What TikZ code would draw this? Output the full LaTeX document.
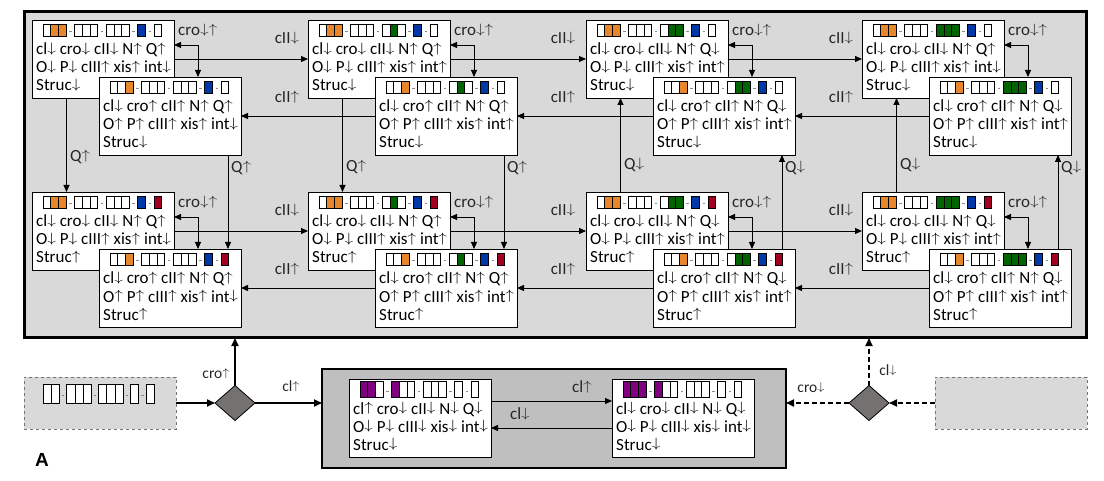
\documentclass[tikz,border=0pt]{standalone}
\usepackage{graphicx}
\usepackage{fontspec}
\setmainfont{Carlito}
\newfontfamily\arialf{Liberation Sans}
\usetikzlibrary{arrows.meta,shapes.geometric,calc}
\definecolor{cO}{RGB}{232,134,44}
\definecolor{cG}{RGB}{0,100,0}
\definecolor{cB}{RGB}{0,56,168}
\definecolor{cR}{RGB}{165,0,33}
\definecolor{cP}{RGB}{128,0,128}
\definecolor{cW}{RGB}{255,255,255}
\definecolor{bgmain}{RGB}{217,217,217}
\definecolor{bgmid}{RGB}{191,191,191}
\definecolor{diac}{RGB}{118,113,113}
\newcommand\UA{\raisebox{0.14em}{\scalebox{1}[0.78]{$\uparrow$}}}
\newcommand\DA{\raisebox{0.14em}{\scalebox{1}[0.78]{$\downarrow$}}}
\tikzset{
  mainbox/.style={draw=black, line width=3pt, fill=bgmain, inner sep=0, outer sep=0},
  midbox/.style={draw=black, line width=2.5pt, fill=bgmid, inner sep=0, outer sep=0},
  dbox/.style={draw=black!55, dashed, line width=0.7pt, fill=bgmain, inner sep=0, outer sep=0, minimum width=152, minimum height=52},
  stbox/.style={draw=black, line width=0.9pt, fill=white, inner sep=0, outer sep=0, minimum width=142, minimum height=78},
  btxt/.style={anchor=base west, inner sep=0, text height=10pt, text depth=2.5pt, font=\fontsize{17}{18}\selectfont},
  lbl/.style={inner sep=0, text height=10pt, text depth=2.5pt, font=\fontsize{17}{18}\selectfont, text=black!85},
  slbl/.style={inner sep=0, text height=9pt, text depth=2pt, font=\fontsize{15.5}{16}\selectfont, text=black!85},
  cellline/.style={draw=black, line width=0.7pt},
  dashc/.style={draw=black!45, line width=0.6pt},
  conn/.style={draw=black, line width=0.9pt, -{Triangle[length=7pt,width=6pt]}},
  conn2/.style={draw=black, line width=0.9pt, {Triangle[length=7pt,width=6pt]}-{Triangle[length=7pt,width=6pt]}},
  bigc/.style={draw=black, line width=1.8pt, -{Triangle[length=8pt,width=7pt]}},
  bigd/.style={bigc, dash pattern=on 5pt off 3pt},
  dia/.style={diamond, draw=black, line width=0.8pt, fill=diac, minimum width=40, minimum height=35, inner sep=0, outer sep=0}
}
\def\cw{7.7}\def\ch{12}\def\cg{8.5}\def\cy{4}
\newcommand\cellrow[3]{%
  \xdef\curx{#1}%
  \foreach \grp [count=\gi] in {#3} {%
    \ifnum\gi>1\relax
      \draw[dashc] ({\curx+\cg/2-1.2},{#2+\ch*0.62}) -- ++(2.4,0);
      \pgfmathsetmacro\nx{\curx+\cg}\xdef\curx{\nx}%
    \fi
    \foreach \c in \grp {%
      \draw[cellline, fill=\c] (\curx,#2) rectangle ++(\cw,\ch);
      \pgfmathsetmacro\nx{\curx+\cw}\xdef\curx{\nx}%
    }%
  }%
}
\newcommand\stbox[7]{%
  \node[stbox, anchor=north west] (#1) at (#2,#3) {};
  \cellrow{#2+11}{#3+\cy}{#4}
  \node[btxt] (#1-a) at ($(#1.north west)+(4,35)$) {#5};
  \node[btxt] (#1-b) at ($(#1.north west)+(4,53)$) {#6};
  \node[btxt] (#1-c) at ($(#1.north west)+(4,71)$) {#7};
}
\begin{document}
\begin{tikzpicture}[x=1pt,y=-1pt]
\useasboundingbox (0,0) rectangle (1104,481);
\node[mainbox, anchor=north west, minimum width=1062, minimum height=326] (main) at (24,12) {};

% ---------- top row ----------
\stbox{T1b}{32}{20}{{cW,cO,cO},{cW,cW,cW},{cW,cW,cW},{cB},{cW}}
 {cl\DA\ cro\DA\ cII\DA\ N\UA\ Q\UA}{O\DA\ P\DA\ cIII\UA\ xis\UA\ int\DA}{Struc\DA}
\stbox{T1f}{99}{77}{{cW,cW,cO},{cW,cW,cW},{cW,cW,cW},{cB},{cW}}
 {cl\DA\ cro\UA\ cII\UA\ N\UA\ Q\UA}{O\UA\ P\UA\ cIII\UA\ xis\UA\ int\DA}{Struc\DA}
\stbox{T2b}{308}{20}{{cW,cO,cO},{cW,cW,cW},{cW,cG,cW},{cB},{cW}}
 {cl\DA\ cro\DA\ cII\DA\ N\UA\ Q\UA}{O\DA\ P\DA\ cIII\UA\ xis\UA\ int\UA}{Struc\DA}
\stbox{T2f}{375}{77}{{cW,cW,cO},{cW,cW,cW},{cW,cG,cW},{cB},{cW}}
 {cl\DA\ cro\UA\ cII\UA\ N\UA\ Q\UA}{O\UA\ P\UA\ cIII\UA\ xis\UA\ int\UA}{Struc\DA}
\stbox{T3b}{586}{20}{{cW,cO,cO},{cW,cW,cW},{cW,cG,cG},{cB},{cW}}
 {cl\DA\ cro\DA\ cII\DA\ N\UA\ Q\DA}{O\DA\ P\DA\ cIII\UA\ xis\UA\ int\UA}{Struc\DA}
\stbox{T3f}{653}{77}{{cW,cW,cO},{cW,cW,cW},{cW,cG,cG},{cB},{cW}}
 {cl\DA\ cro\UA\ cII\UA\ N\UA\ Q\DA}{O\UA\ P\UA\ cIII\UA\ xis\UA\ int\UA}{Struc\DA}
\stbox{T4b}{862}{20}{{cW,cO,cO},{cW,cW,cW},{cG,cG,cG},{cB},{cW}}
 {cl\DA\ cro\DA\ cII\DA\ N\UA\ Q\UA}{O\DA\ P\DA\ cIII\UA\ xis\UA\ int\DA}{Struc\DA}
\stbox{T4f}{929}{77}{{cW,cW,cO},{cW,cW,cW},{cG,cG,cG},{cB},{cW}}
 {cl\DA\ cro\UA\ cII\UA\ N\UA\ Q\DA}{O\UA\ P\UA\ cIII\UA\ xis\UA\ int\UA}{Struc\DA}

% ---------- bottom row ----------
\stbox{B1b}{32}{192}{{cW,cO,cO},{cW,cW,cW},{cW,cW,cW},{cB},{cR}}
 {cl\DA\ cro\DA\ cII\DA\ N\UA\ Q\UA}{O\DA\ P\DA\ cIII\UA\ xis\UA\ int\DA}{Struc\UA}
\stbox{B1f}{99}{249}{{cW,cW,cO},{cW,cW,cW},{cW,cW,cW},{cB},{cR}}
 {cl\DA\ cro\UA\ cII\UA\ N\UA\ Q\UA}{O\UA\ P\UA\ cIII\UA\ xis\UA\ int\DA}{Struc\UA}
\stbox{B2b}{308}{192}{{cW,cO,cO},{cW,cW,cW},{cW,cG,cW},{cB},{cR}}
 {cl\DA\ cro\DA\ cII\DA\ N\UA\ Q\UA}{O\DA\ P\DA\ cIII\UA\ xis\UA\ int\UA}{Struc\UA}
\stbox{B2f}{375}{249}{{cW,cW,cO},{cW,cW,cW},{cW,cG,cW},{cB},{cR}}
 {cl\DA\ cro\UA\ cII\UA\ N\UA\ Q\UA}{O\UA\ P\UA\ cIII\UA\ xis\UA\ int\UA}{Struc\UA}
\stbox{B3b}{586}{192}{{cW,cO,cO},{cW,cW,cW},{cW,cG,cG},{cB},{cR}}
 {cl\DA\ cro\DA\ cII\DA\ N\UA\ Q\DA}{O\DA\ P\DA\ cIII\UA\ xis\UA\ int\UA}{Struc\UA}
\stbox{B3f}{653}{249}{{cW,cW,cO},{cW,cW,cW},{cW,cG,cG},{cB},{cR}}
 {cl\DA\ cro\UA\ cII\UA\ N\UA\ Q\DA}{O\UA\ P\UA\ cIII\UA\ xis\UA\ int\UA}{Struc\UA}
\stbox{B4b}{862}{192}{{cW,cO,cO},{cW,cW,cW},{cG,cG,cG},{cB},{cR}}
 {cl\DA\ cro\DA\ cII\DA\ N\UA\ Q\DA}{O\DA\ P\DA\ cIII\UA\ xis\UA\ int\UA}{Struc\UA}
\stbox{B4f}{929}{249}{{cW,cW,cO},{cW,cW,cW},{cG,cG,cG},{cB},{cR}}
 {cl\DA\ cro\UA\ cII\UA\ N\UA\ Q\DA}{O\UA\ P\UA\ cIII\UA\ xis\UA\ int\UA}{Struc\UA}

% ---------- pair connectors ----------
\foreach \p in {T1,T2,T3,T4,B1,B2,B3,B4}{
  \draw[conn2] ($(\p b.north east)+(0,25)$) -| ($(\p f.north west)+(99,0)$);
  \node[lbl, anchor=west] (\p-cro) at ($(\p b.north east)+(4,12)$) {cro\DA\UA};
}
% horizontal connectors
\foreach \r in {T,B}{
  \foreach \a/\b in {1/2,2/3,3/4}{
    \draw[conn] ($(\r\a b.north east)+(0,39)$) -- ($(\r\b b.north west)+(0,39)$);
    \draw[conn] ($(\r\b f.north west)+(0,39)$) -- ($(\r\a f.north east)+(0,39)$);
    \node[lbl] (\r\a-dn) at ($(\r\a f.north east)+(46,-37)$) {cII\DA};
    \node[lbl] (\r\a-up) at ($(\r\a f.north east)+(46,22)$) {cII\UA};
  }
}
% vertical connectors
\foreach \i in {1,2}{
  \draw[conn] ($(T\i b.south west)+(34.5,0)$) -- ($(B\i b.north west)+(34.5,0)$);
  \draw[conn] ($(T\i f.south west)+(129,0)$) -- ($(B\i f.north west)+(129,0)$);
  \node[lbl, anchor=west] (Qf\i) at ($(T\i f.south west)+(132,14)$) {Q\UA};
}
\node[lbl, anchor=west] (Qb1) at ($(T1b.south west)+(38,60)$) {Q\UA};
\node[lbl, anchor=west] (Qb2) at ($(T2b.south west)+(38,70)$) {Q\UA};
\foreach \i in {3,4}{
  \draw[conn] ($(B\i b.north west)+(34.5,0)$) -- ($(T\i b.south west)+(34.5,0)$);
  \draw[conn] ($(B\i f.north west)+(129,0)$) -- ($(T\i f.south west)+(129,0)$);
  \node[lbl, anchor=west] (Qf\i) at ($(T\i f.south west)+(132,14)$) {Q\DA};
  \node[lbl, anchor=west] (Qb\i) at ($(T\i b.south west)+(38,68)$) {Q\DA};
}

% ---------- middle box ----------
\node[midbox, anchor=north west, minimum width=464, minimum height=99] (mid) at (322,369) {};
\def\ch{16}\def\cy{2}
\stbox{ML}{349}{379}{{cP,cP,cW},{cP,cW,cW},{cW,cW,cW},{cW},{cW}}
 {cl\UA\ cro\DA\ cII\DA\ N\DA\ Q\DA}{O\DA\ P\DA\ cIII\DA\ xis\DA\ int\DA}{Struc\DA}
\stbox{MR}{612}{379}{{cP,cP,cP},{cP,cW,cW},{cW,cW,cW},{cW},{cW}}
 {cl\DA\ cro\DA\ cII\DA\ N\DA\ Q\DA}{O\DA\ P\DA\ cIII\DA\ xis\DA\ int\DA}{Struc\DA}
\draw[conn] ($(ML.north east)+(0,22)$) -- ($(MR.north west)+(0,22)$);
\node[lbl] (mup) at ($(MR.north west)+(-30,10)$) {cl\UA};
\draw[conn] ($(MR.north west)+(0,49)$) -- ($(ML.north east)+(0,49)$);
\node[lbl] (mdn) at ($(ML.north east)+(29,37)$) {cl\DA};

% ---------- bottom left ----------
\node[dbox, anchor=north west] (LD) at (24,377) {};
\def\ch{19}\def\cw{8.2}\def\cg{7.3}
\cellrow{43}{384}{{cW,cW},{cW,cW,cW},{cW,cW,cW},{cW},{cW}}
\node[dia] (D1) at (235,403) {};
\draw[bigc] (LD.east) -- (D1.west);
\draw[bigc] (D1.north) -- (D1.north |- main.south);
\draw[bigc] (D1.east) -- (D1.east -| mid.west);
\node[slbl] (l-cro1) at (216,375) {cro\UA};
\node[slbl] (l-cl1) at (291,388) {cl\UA};

% ---------- bottom right ----------
\node[dbox, anchor=north west] (RD) at (935,377) {};
\node[dia] (D2) at (869,403) {};
\draw[bigd] (RD.west) -- (D2.east);
\draw[bigd] (D2.north) -- (D2.north |- main.south);
\draw[bigd] (D2.west) -- (D2.west -| mid.east);
\node[slbl] (l-cl2) at (888,372) {cl\DA};
\node[slbl] (l-cro2) at (811,389) {cro\DA};

\node[font=\arialf\bfseries\fontsize{19}{19}\selectfont, inner sep=0] (lblA) at (42,460) {A};
\end{tikzpicture}
\end{document}
